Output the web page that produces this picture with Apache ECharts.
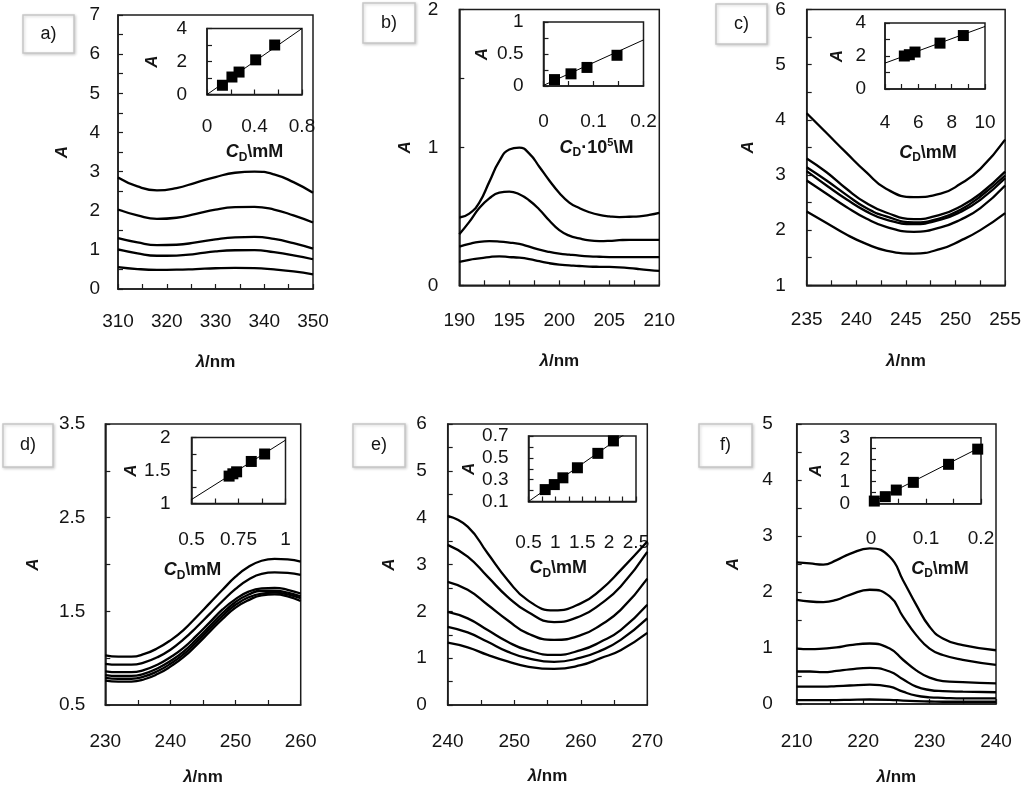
<!DOCTYPE html>
<html><head><meta charset="utf-8">
<script src="https://cdn.jsdelivr.net/npm/echarts/dist/echarts.min.js"></script>
<style>html,body{margin:0;padding:0;background:#fff}#c{width:1024px;height:792px}</style>
</head><body><div id="c"></div>
<script>
// ---------------- DATA ----------------
// Panel a
const aLambda = [310,314,318,322,326,330,334,338,342,346,350];
const aCurves = [
  [2.85,2.62,2.52,2.58,2.72,2.86,2.97,3.00,2.93,2.73,2.46],
  [2.03,1.88,1.79,1.82,1.92,2.03,2.09,2.10,2.03,1.88,1.70],
  [1.30,1.19,1.12,1.13,1.19,1.27,1.32,1.33,1.28,1.17,1.03],
  [1.01,0.91,0.85,0.855,0.90,0.96,0.99,0.995,0.94,0.86,0.76],
  [0.56,0.51,0.49,0.493,0.51,0.53,0.54,0.535,0.50,0.45,0.375]
];
const aCD = [0.13,0.21,0.27,0.41,0.57];
const aAbs = [0.56,1.06,1.36,2.10,3.00];
const aFitX = [0,0.8], aFitY = [0,4];
// Panel b
const bLambda = [190,191,192,193,194,195,196,197,198,199,200,201,202,203,204,205,206,207,208,209,210];
const bCurves = [
  [0.49,0.52,0.60,0.75,0.90,0.985,0.998,0.955,0.86,0.76,0.67,0.60,0.56,0.53,0.51,0.50,0.495,0.497,0.50,0.51,0.525],
  [0.37,0.46,0.56,0.63,0.672,0.68,0.66,0.615,0.55,0.47,0.40,0.36,0.34,0.325,0.32,0.322,0.327,0.33,0.33,0.33,0.33],
  [0.28,0.30,0.315,0.32,0.317,0.31,0.30,0.28,0.258,0.242,0.23,0.222,0.215,0.21,0.207,0.205,0.205,0.205,0.205,0.205,0.205],
  [0.17,0.185,0.195,0.205,0.21,0.205,0.20,0.19,0.175,0.16,0.15,0.145,0.14,0.136,0.134,0.133,0.13,0.125,0.118,0.11,0.105]
];
const bCD = [0.022,0.055,0.087,0.147];
const bAbs = [0.10,0.19,0.29,0.48];
const bFitX = [0,0.2], bFitY = [0.01,0.72];
// Panel c
const cLambda = [235,237,239,241,243,245.8,248.5,250.5,252.5,255];
const cCurves = [
  [4.12,3.76,3.40,3.05,2.75,2.60,2.66,2.84,3.11,3.64],
  [3.30,3.05,2.75,2.49,2.32,2.20,2.28,2.43,2.66,3.06],
  [3.14,2.90,2.64,2.40,2.25,2.14,2.22,2.37,2.61,2.99],
  [3.07,2.81,2.56,2.34,2.19,2.11,2.19,2.33,2.55,2.94],
  [2.90,2.66,2.42,2.21,2.06,1.97,2.05,2.19,2.40,2.81],
  [2.34,2.13,1.92,1.75,1.63,1.575,1.66,1.81,2.00,2.31]
];
const cCD = [5.16,5.46,5.80,7.30,8.70];
const cAbs = [2.00,2.08,2.24,2.78,3.24];
const cFitX = [4,10], cFitY = [1.57,3.79];
// Panel d
const dLambda = [230,232,234,236,238,240,242,244,246,248,250,252,254,256,258,260];
const dCurves = [
  [1.03,1.016,1.016,1.045,1.105,1.19,1.30,1.44,1.585,1.73,1.87,1.975,2.04,2.06,2.055,2.03],
  [0.94,0.93,0.93,0.955,1.01,1.09,1.20,1.33,1.47,1.61,1.74,1.84,1.90,1.915,1.91,1.89],
  [0.86,0.85,0.85,0.875,0.93,1.01,1.11,1.24,1.38,1.52,1.63,1.71,1.745,1.75,1.73,1.69],
  [0.82,0.81,0.81,0.835,0.89,0.97,1.07,1.20,1.34,1.48,1.60,1.68,1.72,1.72,1.70,1.66],
  [0.79,0.78,0.78,0.805,0.86,0.94,1.04,1.17,1.31,1.45,1.57,1.65,1.69,1.70,1.68,1.64],
  [0.76,0.75,0.75,0.775,0.83,0.91,1.01,1.14,1.28,1.42,1.54,1.62,1.67,1.68,1.66,1.61]
];
const dCD = [0.70,0.72,0.74,0.818,0.889];
const dAbs = [1.415,1.45,1.48,1.637,1.75];
const dFitX = [0.5,1.0], dFitY = [1.06,1.96];
// Panel e
const eLambda = [240,243,246,249,252,256,260,263,266,270];
const eCurves = [
  [4.04,3.81,3.24,2.67,2.24,2.02,2.17,2.46,2.88,3.49],
  [3.42,3.17,2.74,2.31,1.99,1.77,1.90,2.16,2.53,3.27],
  [2.63,2.46,2.14,1.81,1.53,1.39,1.49,1.71,2.03,2.70],
  [1.99,1.85,1.60,1.35,1.17,1.07,1.17,1.35,1.60,2.14],
  [1.67,1.55,1.35,1.14,1.00,0.92,1.01,1.16,1.39,1.85],
  [1.33,1.23,1.07,0.93,0.82,0.77,0.85,1.00,1.17,1.54]
];
const eCD = [0.81,0.98,1.14,1.41,1.79,2.08];
const eAbs = [0.209,0.255,0.317,0.409,0.541,0.655];
const eFitX = [0.5,2.5], eFitY = [0.10,0.79];
// Panel f
const fLambda = [210,212,214,216,218,221,224,226,228,230,232,235,240];
const fCurves = [
  [2.53,2.51,2.49,2.57,2.68,2.78,2.63,2.21,1.77,1.38,1.17,1.05,0.96],
  [1.86,1.83,1.82,1.86,1.95,2.04,1.92,1.56,1.23,0.99,0.875,0.79,0.70],
  [0.99,0.98,0.99,1.01,1.05,1.08,0.99,0.79,0.60,0.47,0.41,0.39,0.37],
  [0.58,0.58,0.57,0.59,0.62,0.645,0.58,0.44,0.31,0.25,0.23,0.22,0.21],
  [0.31,0.31,0.31,0.32,0.33,0.345,0.31,0.22,0.15,0.12,0.11,0.10,0.10],
  [0.07,0.07,0.07,0.07,0.075,0.08,0.075,0.06,0.05,0.045,0.04,0.04,0.04]
];
const fCD = [0.006,0.026,0.046,0.077,0.141,0.194];
const fAbs = [0.12,0.32,0.62,0.97,1.79,2.48];
const fFitX = [0,0.2], fFitY = [0.04,2.58];

// tick labels
const aXLabels=[310,320,330,340,350], aYLabels=[0,1,2,3,4,5,6,7];
const bXLabels=[190,195,200,205,210], bYLabels=[0,1,2];
const cXLabels=[235,240,245,250,255], cYLabels=[1,2,3,4,5,6];
const dXLabels=[230,240,250,260], dYLabels=[0.5,1.5,2.5,3.5];
const eXLabels=[240,250,260,270], eYLabels=[0,1,2,3,4,5,6];
const fXLabels=[210,220,230,240], fYLabels=[0,1,2,3,4,5];
const aIXLabels=[0,0.4,0.8], aIYLabels=[0,2,4];
const bIXLabels=[0,0.1,0.2], bIYLabels=[0,0.5,1];
const cIXLabels=[4,6,8,10], cIYLabels=[0,2,4];
const dIXLabels=[0.5,0.75,1], dIYLabels=[1,1.5,2];
const eIXLabels=[0.5,1,1.5,2,2.5], eIYLabels=[0.1,0.3,0.5,0.7];
const fIXLabels=[0,0.1,0.2], fIYLabels=[0,1,2,3];
const panelLetters = ['a)','b)','c)','d)','e)','f)'];

// ---------------- LAYOUT / STYLE ----------------
const FONT = 'Liberation Sans';
const TXT = '#141414';
const LFS = 19;
const panels = [
  {letter:0, lam:aLambda, curves:aCurves, cd:aCD, abs:aAbs, fx:aFitX, fy:aFitY,
   main:{l:118,t:15,w:195,h:274, xmin:310,xmax:350,xi:5,ymin:0,ymax:7,yi:0.5, xl:aXLabels, yl:aYLabels, xm:23, ym:18, xg:65, yg:47},
   ins:{l:207,t:28.5,w:95,h:66, xmin:0,xmax:0.8,xi:0.2,ymin:0,ymax:4,yi:1, xl:aIXLabels, yl:aIYLabels, xm:23, ym:20, xg:47, yg:46, off:0, sup:false},
   box:[23,15,51,38]},
  {letter:1, lam:bLambda, curves:bCurves, cd:bCD, abs:bAbs, fx:bFitX, fy:bFitY,
   main:{l:459.3,t:5,w:200,h:280.3, xmin:190,xmax:210,xi:2.5,ymin:0,ymax:2,yi:0.5, xl:bXLabels, yl:bYLabels, xm:26, ym:21, xg:68, yg:45},
   ins:{l:543.5,t:22,w:100,h:64, xmin:0,xmax:0.2,xi:0.05,ymin:0,ymax:1,yi:0.25, xl:bIXLabels, yl:bIYLabels, xm:26, ym:20, xg:51, yg:53, off:3, sup:true},
   box:[363,3,52,40]},
  {letter:2, lam:cLambda, curves:cCurves, cd:cCD, abs:cAbs, fx:cFitX, fy:cFitY,
   main:{l:806.7,t:4,w:200.6,h:281.3, xmin:235,xmax:255,xi:2.5,ymin:1,ymax:6,yi:0.5, xl:cXLabels, yl:cYLabels, xm:25, ym:21, xg:68, yg:50},
   ins:{l:885,t:23,w:100,h:66, xmin:4,xmax:10,xi:1,ymin:0,ymax:4,yi:1, xl:cIXLabels, yl:cIYLabels, xm:24, ym:19, xg:53, yg:39, off:-7, sup:false},
   box:[716,4,51,40]},
  {letter:3, lam:dLambda, curves:dCurves, cd:dCD, abs:dAbs, fx:dFitX, fy:dFitY,
   main:{l:105.3,t:424,w:195.4,h:281, xmin:230,xmax:260,xi:5,ymin:0.5,ymax:3.5,yi:0.5, xl:dXLabels, yl:dYLabels, xm:27, ym:20, xg:64, yg:63},
   ins:{l:191.5,t:437.5,w:94,h:66, xmin:0.5,xmax:1,xi:0.125,ymin:1,ymax:2,yi:0.25, xl:dIXLabels, yl:dIYLabels, xm:27, ym:21, xg:56, yg:49, off:-46, sup:false},
   box:[3,424,50,43]},
  {letter:4, lam:eLambda, curves:eCurves, cd:eCD, abs:eAbs, fx:eFitX, fy:eFitY,
   main:{l:447.7,t:424,w:199.6,h:281, xmin:240,xmax:270,xi:5,ymin:0,ymax:6,yi:0.5, xl:eXLabels, yl:eYLabels, xm:27, ym:21, xg:63, yg:50},
   ins:{l:528.5,t:436,w:107.5,h:65.5, xmin:0.5,xmax:2.5,xi:0.25,ymin:0.1,ymax:0.7,yi:0.1, xl:eIXLabels, yl:eIYLabels, xm:32, ym:20, xg:56, yg:46, off:-24, sup:false},
   box:[353,424,52,43]},
  {letter:5, lam:fLambda, curves:fCurves, cd:fCD, abs:fAbs, fx:fFitX, fy:fFitY,
   main:{l:796.7,t:424,w:199.3,h:280, xmin:210,xmax:240,xi:5,ymin:0,ymax:5,yi:0.5, xl:fXLabels, yl:fYLabels, xm:28, ym:24, xg:65, yg:55},
   ins:{l:871,t:437.7,w:110,h:66, xmin:0,xmax:0.2,xi:0.05,ymin:0,ymax:3,yi:0.5, xl:fIXLabels, yl:fIYLabels, xm:26, ym:21, xg:54, yg:46, off:14, sup:false},
   box:[699,424,53,43]}
];

function fmt(list){
  return function(v){
    for (const l of list){ if (Math.abs(v-l) < 1e-6) return String(l); }
    return '';
  };
}
const lineCol = '#1c1c1c';
function axisCommon(min,max,interval,labels,margin){
  return {
    type:'value', min:min, max:max, interval:interval,
    axisLine:{show:true, onZero:false, lineStyle:{color:lineCol,width:1.5}},
    axisTick:{show:true, inside:true, length:5, lineStyle:{color:lineCol,width:1.2}},
    splitLine:{show:false},
    axisLabel:{margin:margin, formatter:fmt(labels), color:TXT, fontSize:LFS, fontFamily:FONT}
  };
}
const richLam = {
  i:{fontStyle:'italic', fontWeight:'bold', fontSize:17, fontFamily:FONT, color:TXT},
  n:{fontWeight:'bold', fontSize:17, fontFamily:FONT, color:TXT}
};
const richCD = {
  i:{fontStyle:'italic', fontWeight:'bold', fontSize:18, fontFamily:FONT, color:TXT, lineHeight:22},
  s:{fontWeight:'bold', fontSize:12, fontFamily:FONT, color:TXT, lineHeight:13, verticalAlign:'bottom'},
  p:{fontWeight:'bold', fontSize:11, fontFamily:FONT, color:TXT, lineHeight:11, verticalAlign:'top'},
  n:{fontWeight:'bold', fontSize:18, fontFamily:FONT, color:TXT, lineHeight:22}
};
const nameA = {fontStyle:'italic', fontWeight:'bold', fontSize:17, fontFamily:FONT, color:TXT};

const grid=[], xAxis=[], yAxis=[], series=[], graphic=[];
panels.forEach(function(p){
  const gi = grid.length;
  const m = p.main;
  grid.push({left:m.l, top:m.t, width:m.w, height:m.h, show:true, borderColor:lineCol, borderWidth:1.5, backgroundColor:'transparent'});
  const xa = axisCommon(m.xmin,m.xmax,m.xi,m.xl,m.xm);
  xa.gridIndex = gi; xa.name='{i|λ}{n|/nm}'; xa.nameLocation='middle'; xa.nameGap=m.xg;
  xa.nameTextStyle={rich:richLam};
  xAxis.push(xa);
  const ya = axisCommon(m.ymin,m.ymax,m.yi,m.yl,m.ym);
  ya.gridIndex = gi; ya.name='A'; ya.nameLocation='middle'; ya.nameGap=m.yg; ya.nameRotate=90;
  ya.nameTextStyle=nameA;
  yAxis.push(ya);
  p.curves.forEach(function(c){
    series.push({type:'line', xAxisIndex:gi, yAxisIndex:gi, smooth:0.5, showSymbol:false, symbol:'none',
      lineStyle:{color:'#000', width:2.3}, data:p.lam.map(function(x,k){return [x,c[k]];}), z:2, silent:true});
  });
  // inset
  const ii = grid.length;
  const n = p.ins;
  grid.push({left:n.l, top:n.t, width:n.w, height:n.h, show:true, borderColor:lineCol, borderWidth:1.5, backgroundColor:'transparent'});
  const ixa = axisCommon(n.xmin,n.xmax,n.xi,n.xl,n.xm);
  ixa.gridIndex = ii; ixa.nameLocation='middle'; ixa.nameGap=n.xg;
  ixa.name = n.sup ? '{i|C}{s|D}{n|·10}{p|5}{n|\\M}' : '{i|C}{s|D}{n|\\mM}';
  const pad = n.off>=0 ? [0,0,0,2*n.off] : [0,-2*n.off,0,0];
  ixa.nameTextStyle={rich:richCD, padding:pad};
  xAxis.push(ixa);
  const iya = axisCommon(n.ymin,n.ymax,n.yi,n.yl,n.ym);
  iya.gridIndex = ii; iya.name='A'; iya.nameLocation='middle'; iya.nameGap=n.yg; iya.nameRotate=90;
  iya.nameTextStyle=nameA;
  yAxis.push(iya);
  series.push({type:'line', xAxisIndex:ii, yAxisIndex:ii, showSymbol:false, symbol:'none',
    lineStyle:{color:'#000', width:1}, data:p.fx.map(function(x,k){return [x,p.fy[k]];}), z:3, silent:true});
  series.push({type:'scatter', xAxisIndex:ii, yAxisIndex:ii, symbol:'rect', symbolSize:11,
    itemStyle:{color:'#000', opacity:1}, data:p.cd.map(function(x,k){return [x,p.abs[k]];}), z:4, silent:true});
  // letter box
  const b = p.box;
  graphic.push({type:'group', children:[
    {type:'rect', shape:{x:b[0],y:b[1],width:b[2],height:b[3]},
     style:{fill:'#fff', stroke:'#c6c6c6', lineWidth:1.5, shadowBlur:3, shadowColor:'rgba(0,0,0,0.18)', shadowOffsetX:1, shadowOffsetY:1}},
    {type:'text', style:{text:panelLetters[p.letter], x:b[0]+b[2]/2, y:b[1]+b[3]/2,
      align:'center', verticalAlign:'middle', textAlign:'center', textVerticalAlign:'middle',
      fontSize:18, fontFamily:FONT, fill:TXT}}
  ]});
});

const chart = echarts.init(document.getElementById('c'), null, {renderer:'canvas'});
chart.setOption({
  animation:false,
  backgroundColor:'#fff',
  grid:grid, xAxis:xAxis, yAxis:yAxis, series:series, graphic:graphic
});
</script>
</body></html>
